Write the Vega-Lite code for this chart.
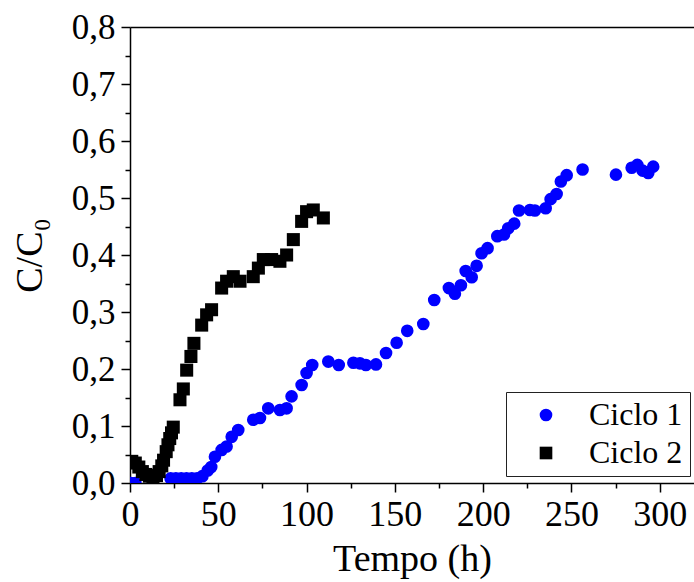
{
  "$schema": "https://vega.github.io/schema/vega-lite/v6.json",
  "autosize": {"type": "none"},
  "padding": {"left": 130, "top": 27, "right": 0, "bottom": 99},
  "width": 564,
  "height": 456,
  "background": "white",
  "config": {
    "view": {"stroke": null},
    "font": "Liberation Serif",
    "axis": {
      "labelFont": "Liberation Serif",
      "titleFont": "Liberation Serif",
      "labelColor": "black",
      "titleColor": "black",
      "domainColor": "black",
      "tickColor": "black",
      "domainWidth": 1.5,
      "tickWidth": 1.5,
      "grid": false,
      "titleFontWeight": "normal"
    },
    "legend": {
      "labelFont": "Liberation Serif",
      "labelColor": "black"
    }
  },
  "data": {
    "values": [
      {"t": 0.5, "c": 0.0, "ciclo": "Ciclo 1"},
      {"t": 3, "c": 0.0, "ciclo": "Ciclo 1"},
      {"t": 23, "c": 0.008, "ciclo": "Ciclo 1"},
      {"t": 26, "c": 0.008, "ciclo": "Ciclo 1"},
      {"t": 29, "c": 0.008, "ciclo": "Ciclo 1"},
      {"t": 32, "c": 0.008, "ciclo": "Ciclo 1"},
      {"t": 35, "c": 0.008, "ciclo": "Ciclo 1"},
      {"t": 38, "c": 0.008, "ciclo": "Ciclo 1"},
      {"t": 41, "c": 0.012, "ciclo": "Ciclo 1"},
      {"t": 44, "c": 0.022, "ciclo": "Ciclo 1"},
      {"t": 46, "c": 0.028, "ciclo": "Ciclo 1"},
      {"t": 48.1, "c": 0.046, "ciclo": "Ciclo 1"},
      {"t": 51.9, "c": 0.058, "ciclo": "Ciclo 1"},
      {"t": 54.7, "c": 0.064, "ciclo": "Ciclo 1"},
      {"t": 57.6, "c": 0.081, "ciclo": "Ciclo 1"},
      {"t": 61.3, "c": 0.093, "ciclo": "Ciclo 1"},
      {"t": 69.8, "c": 0.111, "ciclo": "Ciclo 1"},
      {"t": 73.6, "c": 0.114, "ciclo": "Ciclo 1"},
      {"t": 78.3, "c": 0.131, "ciclo": "Ciclo 1"},
      {"t": 84.9, "c": 0.128, "ciclo": "Ciclo 1"},
      {"t": 88.7, "c": 0.131, "ciclo": "Ciclo 1"},
      {"t": 91.5, "c": 0.152, "ciclo": "Ciclo 1"},
      {"t": 97.2, "c": 0.172, "ciclo": "Ciclo 1"},
      {"t": 100, "c": 0.193, "ciclo": "Ciclo 1"},
      {"t": 103.2, "c": 0.207, "ciclo": "Ciclo 1"},
      {"t": 112.3, "c": 0.213, "ciclo": "Ciclo 1"},
      {"t": 118.2, "c": 0.207, "ciclo": "Ciclo 1"},
      {"t": 126.5, "c": 0.211, "ciclo": "Ciclo 1"},
      {"t": 130.2, "c": 0.21, "ciclo": "Ciclo 1"},
      {"t": 133.6, "c": 0.207, "ciclo": "Ciclo 1"},
      {"t": 139.3, "c": 0.208, "ciclo": "Ciclo 1"},
      {"t": 145, "c": 0.228, "ciclo": "Ciclo 1"},
      {"t": 151, "c": 0.246, "ciclo": "Ciclo 1"},
      {"t": 157, "c": 0.267, "ciclo": "Ciclo 1"},
      {"t": 166.1, "c": 0.279, "ciclo": "Ciclo 1"},
      {"t": 172.3, "c": 0.321, "ciclo": "Ciclo 1"},
      {"t": 180.6, "c": 0.342, "ciclo": "Ciclo 1"},
      {"t": 184, "c": 0.332, "ciclo": "Ciclo 1"},
      {"t": 187.4, "c": 0.347, "ciclo": "Ciclo 1"},
      {"t": 190.1, "c": 0.372, "ciclo": "Ciclo 1"},
      {"t": 193.5, "c": 0.361, "ciclo": "Ciclo 1"},
      {"t": 196.3, "c": 0.381, "ciclo": "Ciclo 1"},
      {"t": 199.1, "c": 0.403, "ciclo": "Ciclo 1"},
      {"t": 202.5, "c": 0.412, "ciclo": "Ciclo 1"},
      {"t": 208, "c": 0.433, "ciclo": "Ciclo 1"},
      {"t": 211.8, "c": 0.436, "ciclo": "Ciclo 1"},
      {"t": 214.2, "c": 0.447, "ciclo": "Ciclo 1"},
      {"t": 217.6, "c": 0.455, "ciclo": "Ciclo 1"},
      {"t": 220.3, "c": 0.478, "ciclo": "Ciclo 1"},
      {"t": 226.5, "c": 0.479, "ciclo": "Ciclo 1"},
      {"t": 229.3, "c": 0.478, "ciclo": "Ciclo 1"},
      {"t": 235.4, "c": 0.482, "ciclo": "Ciclo 1"},
      {"t": 238.2, "c": 0.498, "ciclo": "Ciclo 1"},
      {"t": 241.6, "c": 0.507, "ciclo": "Ciclo 1"},
      {"t": 244, "c": 0.529, "ciclo": "Ciclo 1"},
      {"t": 247.3, "c": 0.54, "ciclo": "Ciclo 1"},
      {"t": 256.3, "c": 0.55, "ciclo": "Ciclo 1"},
      {"t": 275.2, "c": 0.541, "ciclo": "Ciclo 1"},
      {"t": 284.1, "c": 0.553, "ciclo": "Ciclo 1"},
      {"t": 287.3, "c": 0.558, "ciclo": "Ciclo 1"},
      {"t": 290.3, "c": 0.548, "ciclo": "Ciclo 1"},
      {"t": 293.5, "c": 0.544, "ciclo": "Ciclo 1"},
      {"t": 296.3, "c": 0.555, "ciclo": "Ciclo 1"},
      {"t": 1, "c": 0.038, "ciclo": "Ciclo 2"},
      {"t": 3, "c": 0.035, "ciclo": "Ciclo 2"},
      {"t": 5, "c": 0.028, "ciclo": "Ciclo 2"},
      {"t": 7, "c": 0.02, "ciclo": "Ciclo 2"},
      {"t": 9, "c": 0.015, "ciclo": "Ciclo 2"},
      {"t": 11, "c": 0.012, "ciclo": "Ciclo 2"},
      {"t": 13, "c": 0.011, "ciclo": "Ciclo 2"},
      {"t": 15, "c": 0.013, "ciclo": "Ciclo 2"},
      {"t": 16.5, "c": 0.02, "ciclo": "Ciclo 2"},
      {"t": 18, "c": 0.03, "ciclo": "Ciclo 2"},
      {"t": 19, "c": 0.04, "ciclo": "Ciclo 2"},
      {"t": 20.5, "c": 0.055, "ciclo": "Ciclo 2"},
      {"t": 21.5, "c": 0.067, "ciclo": "Ciclo 2"},
      {"t": 22.5, "c": 0.078, "ciclo": "Ciclo 2"},
      {"t": 23.5, "c": 0.088, "ciclo": "Ciclo 2"},
      {"t": 24.5, "c": 0.098, "ciclo": "Ciclo 2"},
      {"t": 28.3, "c": 0.146, "ciclo": "Ciclo 2"},
      {"t": 30.2, "c": 0.165, "ciclo": "Ciclo 2"},
      {"t": 32.1, "c": 0.198, "ciclo": "Ciclo 2"},
      {"t": 34.5, "c": 0.222, "ciclo": "Ciclo 2"},
      {"t": 36.2, "c": 0.245, "ciclo": "Ciclo 2"},
      {"t": 40.6, "c": 0.277, "ciclo": "Ciclo 2"},
      {"t": 43.4, "c": 0.295, "ciclo": "Ciclo 2"},
      {"t": 46.2, "c": 0.304, "ciclo": "Ciclo 2"},
      {"t": 51.9, "c": 0.342, "ciclo": "Ciclo 2"},
      {"t": 54.7, "c": 0.354, "ciclo": "Ciclo 2"},
      {"t": 58.5, "c": 0.362, "ciclo": "Ciclo 2"},
      {"t": 62.3, "c": 0.354, "ciclo": "Ciclo 2"},
      {"t": 69.8, "c": 0.362, "ciclo": "Ciclo 2"},
      {"t": 72.7, "c": 0.377, "ciclo": "Ciclo 2"},
      {"t": 75.5, "c": 0.392, "ciclo": "Ciclo 2"},
      {"t": 80.2, "c": 0.392, "ciclo": "Ciclo 2"},
      {"t": 84.9, "c": 0.389, "ciclo": "Ciclo 2"},
      {"t": 88.7, "c": 0.4, "ciclo": "Ciclo 2"},
      {"t": 92.5, "c": 0.427, "ciclo": "Ciclo 2"},
      {"t": 97.2, "c": 0.459, "ciclo": "Ciclo 2"},
      {"t": 100, "c": 0.476, "ciclo": "Ciclo 2"},
      {"t": 103.8, "c": 0.479, "ciclo": "Ciclo 2"},
      {"t": 109.5, "c": 0.465, "ciclo": "Ciclo 2"}
    ]
  },
  "encoding": {
    "y": {
      "field": "c",
      "type": "quantitative",
      "scale": {"domain": [0, 0.8], "nice": false, "zero": false},
      "axis": {
        "title": "C/C₀",
        "titleFontSize": 38,
        "titlePadding": 22,
        "values": [0, 0.05, 0.1, 0.15, 0.2, 0.25, 0.3, 0.35, 0.4, 0.45, 0.5, 0.55, 0.6, 0.65, 0.7, 0.75, 0.8],
        "labelExpr": "round(datum.value*100) % 10 == 0 ? replace(format(datum.value, '.1f'), '.', ',') : ''",
        "labelFontSize": 35,
        "labelPadding": 6,
        "tickSize": {"condition": {"test": "round(datum.value*100) % 10 == 0", "value": 9}, "value": 5}
      }
    },
    "color": {
      "field": "ciclo",
      "type": "nominal",
      "scale": {"domain": ["Ciclo 1", "Ciclo 2"], "range": ["#0000ff", "#000000"]},
      "legend": {
        "title": null,
        "orient": "none",
        "legendX": 376,
        "legendY": 365,
        "labelFontSize": 32,
        "symbolSize": 160,
        "symbolOffset": 17,
        "labelOffset": 27,
        "padding": 7,
        "rowPadding": 6,
        "strokeColor": "#222222",
        "fillColor": "white",
        "symbolStrokeWidth": 0
      }
    },
    "shape": {
      "field": "ciclo",
      "type": "nominal",
      "scale": {"domain": ["Ciclo 1", "Ciclo 2"], "range": ["circle", "square"]},
      "legend": null
    }
  },
  "layer": [
    {
      "transform": [{"filter": "datum.ciclo == 'Ciclo 1'"}],
      "mark": {"type": "point", "filled": true, "opacity": 1, "size": 160, "clip": true},
      "encoding": {
        "x": {
          "field": "t",
          "type": "quantitative",
          "scale": {"domain": [0, 319.4], "nice": false, "zero": false},
          "axis": {
            "title": "Tempo (h)",
            "titleFontSize": 38,
            "titlePadding": 8,
            "values": [0, 25, 50, 75, 100, 125, 150, 175, 200, 225, 250, 275, 300],
            "labelExpr": "datum.value % 50 == 0 ? format(datum.value, 'd') : ''",
            "labelFontSize": 36,
            "labelPadding": 5,
            "labelFlush": false,
            "tickSize": {"condition": {"test": "datum.value % 50 == 0", "value": 9}, "value": 5}
          }
        }
      }
    },
    {
      "transform": [{"filter": "datum.ciclo == 'Ciclo 2'"}],
      "mark": {"type": "point", "filled": true, "opacity": 1, "size": 170, "clip": true},
      "encoding": {
        "x": {
          "field": "t",
          "type": "quantitative",
          "axis": {
            "orient": "top",
            "title": null,
            "labels": false,
            "ticks": false
          }
        }
      }
    }
  ],
  "resolve": {"axis": {"x": "independent"}}
}
